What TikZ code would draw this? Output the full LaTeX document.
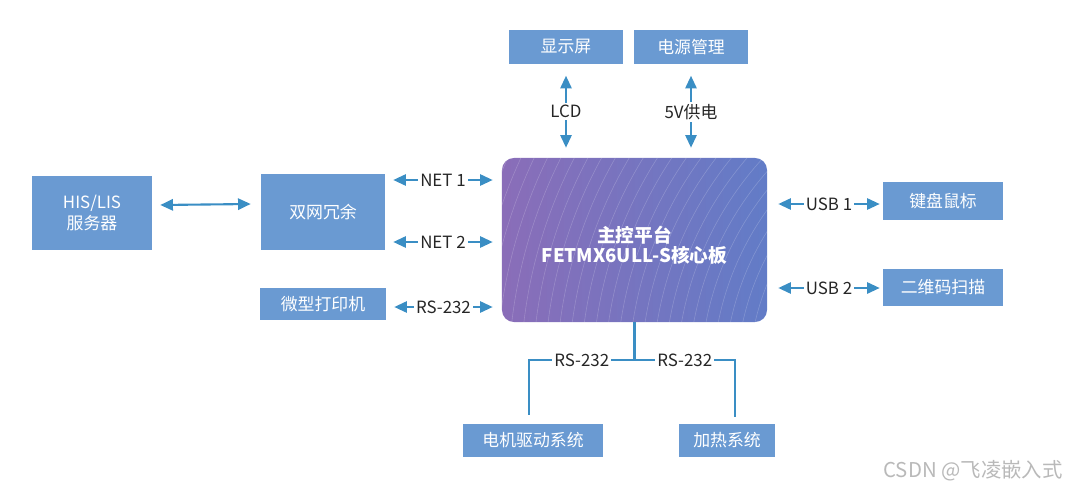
\documentclass[tikz,border=0pt]{standalone}
\usepackage{fontspec}
\setmainfont{Noto Sans CJK SC}
\usetikzlibrary{arrows.meta,positioning,calc}
\definecolor{colorBox}{HTML}{6A9AD2}
\definecolor{colorLink}{HTML}{3A8EC4}
\definecolor{colorCoreL}{HTML}{8A6DB8}
\definecolor{colorCoreR}{HTML}{627CC7}

\begin{document}
\begin{tikzpicture}[x=0.025cm,y=-0.025cm,>={Triangle[length=9pt,width=8pt]},every node/.append style={align=center},blk/.style={fill=colorBox,text=white,inner sep=0pt,font=\fontsize{12}{15}\selectfont},lbl/.style={fill=white,text=black!85,inner sep=1.5pt,font=\fontsize{12}{14}\selectfont},link/.style={colorLink,line width=1.5pt},core/.style={rounded corners=0.3cm,left color=colorCoreL,right color=colorCoreR,text=white,font=\fontsize{13.3}{14}\selectfont\bfseries,minimum width=6.625cm,minimum height=4.1cm,path picture={\foreach \r in {5.5,5.8,...,16.5} \draw[white,opacity=0.2,line width=0.4pt] ($(path picture bounding box.center)+(9.25cm,-3.5cm)$) circle (\r cm);}}]
    \useasboundingbox (0,0) rectangle (1080,494);
    \node [core] (main) at (634.5,240) {\rule{0pt}{19pt}主控平台\\FETMX6ULL-S核心板};
    \node [blk, minimum width=3cm, minimum height=1.85cm] (his) at (92,213) {HIS/LIS\\服务器};
    \node [blk, minimum width=3.1cm, minimum height=1.9cm] (dual) at (323,212) {双网冗余};
    \node [blk, minimum width=3.15cm, minimum height=0.8cm] (prn) at (323,304) {微型打印机};
    \node [blk, minimum width=2.825cm, minimum height=0.825cm] (disp) at (566,47) {显示屏};
    \node [blk, minimum width=2.825cm, minimum height=0.825cm] (pwr) at (691,47) {电源管理};
    \node [blk, minimum width=3cm, minimum height=0.925cm] (kbd) at (943,201) {键盘鼠标};
    \node [blk, minimum width=3cm, minimum height=0.925cm, below=1.225cm of kbd] (qr) {二维码扫描};
    \node [blk, minimum width=3.5cm, minimum height=0.825cm] (motor) at (533,440) {电机驱动系统};
    \node [blk, minimum width=2.375cm, minimum height=0.825cm] (heat) at (727,440) {加热系统};
    \node [text=gray!55, font=\fontsize{14.5}{16}\selectfont] (mark) at (973,471) {CSDN @飞凌嵌入式};
    % left side
    \draw[link,<->] ([shift={(0.2cm,0.2cm)}]his.east) -- ([shift={(-0.25cm,0.2cm)}]dual.west);
    \draw[link,<->] ([xshift=0.2cm]dual.east |- 0,180) -- ([xshift=-0.225cm]main.west |- 0,180) node[midway,lbl] {NET 1};
    \draw[link,<->] ([xshift=0.2cm]dual.east |- 0,242) -- ([xshift=-0.225cm]main.west |- 0,242) node[midway,lbl] {NET 2};
    \draw[link,<->] ([xshift=0.2cm]prn.east |- 0,307) -- ([xshift=-0.225cm]main.west |- 0,307) node[midway,lbl] {RS-232};
    % right side
    \draw[link,<->] ([xshift=0.275cm]main.east |- 0,204) -- ([xshift=-0.075cm]kbd.west |- 0,204) node[midway,lbl] {USB 1};
    \draw[link,<->] ([xshift=0.275cm]main.east |- 0,288) -- ([xshift=-0.075cm]qr.west |- 0,288) node[midway,lbl] {USB 2};
    % top
    \draw[link,<->] ([yshift=-0.3cm]disp.south) -- ([yshift=0.25cm]disp.south |- main.north) node[midway,lbl] {LCD};
    \draw[link,<->] ([yshift=-0.3cm]pwr.south) -- ([yshift=0.25cm]pwr.south |- main.north) node[midway,lbl] {5V供电};
    % bottom
    \coordinate (tap) at (main.south |- 0,360);
    \draw[link] (main.south) -- (tap);
    \draw[link] (tap) -| ([shift={(-0.1cm,0.2cm)}]motor.north) node[pos=0.25,lbl] {RS-232};
    \draw[link] (tap) -| ([shift={(0.2cm,0.15cm)}]heat.north) node[pos=0.25,lbl] {RS-232};
\end{tikzpicture}
\end{document}
